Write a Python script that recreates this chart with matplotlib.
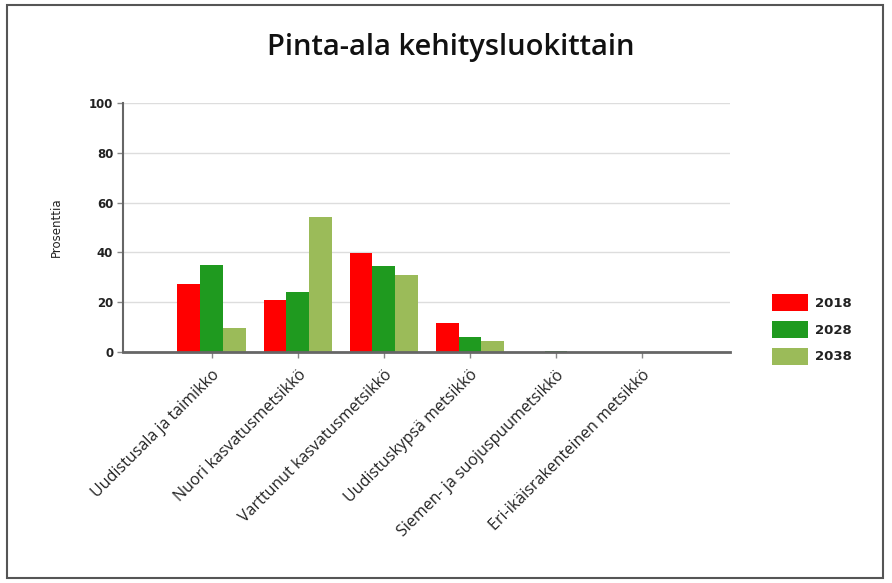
import matplotlib
matplotlib.use("Agg")
import matplotlib.pyplot as plt
from matplotlib.patches import Rectangle, Patch
import numpy as np

categories = ["Uudistusala ja taimikko", "Nuori kasvatusmetsikkö", "Varttunut kasvatusmetsikkö",
              "Uudistuskypsä metsikkö", "Siemen- ja suojuspuumetsikkö", "Eri-ikäisrakenteinen metsikkö"]
years = ["2018", "2028", "2038"]
v2018 = [27.4, 20.8, 39.9, 11.6, 0.0, 0.0]
v2028 = [35.1, 24.1, 34.4, 6.0, 0.5, 0.0]
v2038 = [9.8, 54.2, 31.0, 4.4, 0.2, 0.0]
colors = ["#ff0000", "#1f9a1f", "#9bbb59"]
yticks = [0, 20, 40, 60, 80, 100]

W, H = 892, 583
fig = plt.figure(figsize=(W / 100, H / 100), dpi=100)
fig.patch.set_facecolor("white")
fig.add_artist(Rectangle((7 / W, 5 / H), 876 / W, 573 / H, transform=fig.transFigure,
                         fill=False, edgecolor="#555555", linewidth=1.5))

ax = fig.add_axes([123 / W, 1 - 352 / H, (730 - 123) / W, (352 - 103) / H])
x = np.arange(len(categories))
bw = 0.265
for i, (vals, c) in enumerate(zip([v2018, v2028, v2038], colors)):
    ax.bar(x + (i - 1) * bw, vals, width=bw, color=c, edgecolor="none", zorder=3)

ax.set_xlim(-1.03, 6.02)
ax.set_ylim(0, 100)
ax.set_yticks(yticks)
ax.set_yticklabels([str(t) for t in yticks], fontsize=8.5, fontweight="bold", color="#222222")
ax.set_xticks(x)
ax.set_xticklabels(categories, rotation=45, ha="right", rotation_mode="anchor",
                   fontsize=11.5, fontweight="medium", family="Open Sans", color="#222222")
ax.tick_params(axis="x", length=4, width=1, color="#888888", pad=7)
ax.tick_params(axis="y", length=4, width=1, color="#888888", pad=3)
ax.grid(axis="y", color="#dddddd", linewidth=1, zorder=0)
for s in ["top", "right"]:
    ax.spines[s].set_visible(False)
ax.spines["left"].set_color("#666666")
ax.spines["left"].set_linewidth(1.5)
ax.spines["bottom"].set_color("#666666")
ax.spines["bottom"].set_linewidth(2)
ax.spines["bottom"].set_zorder(4)
ax.set_ylabel("Prosenttia", fontsize=8.5, color="#222222", labelpad=19)

fig.text(451 / W, 1 - 47 / H, "Pinta-ala kehitysluokittain", ha="center", va="center",
         fontsize=21, fontweight="semibold", family="Open Sans", color="#111111")

handles = [Patch(facecolor=c, edgecolor="none") for c in colors]
leg = fig.legend(handles, years, loc="upper left", bbox_to_anchor=(760 / W, 1 - 282 / H),
                 frameon=False, handlelength=2.7, handleheight=1.6, handletextpad=0.6,
                 labelspacing=0.75, prop={"size": 9.5, "weight": "bold"})
for t in leg.get_texts():
    t.set_color("#222222")

fig.savefig("out.png", dpi=100)
